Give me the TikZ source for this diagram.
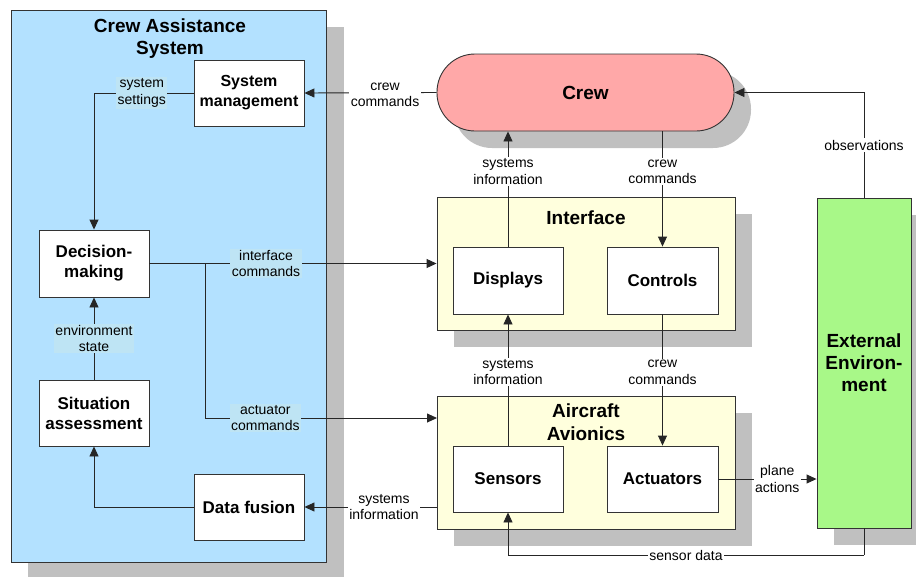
\documentclass[tikz,border=0pt]{standalone}
\usepackage{fontspec}
\setmainfont{Liberation Sans}
\usetikzlibrary{arrows.meta}
\definecolor{casblue}{RGB}{179,225,255}
\definecolor{lblblue}{RGB}{190,228,244}
\definecolor{crewpink}{RGB}{255,168,168}
\definecolor{ifyellow}{RGB}{255,255,221}
\definecolor{envgreen}{RGB}{168,248,136}
\definecolor{shadowgray}{RGB}{192,192,192}
\tikzset{
  box/.style={draw=black!80, line width=0.9pt, fill=white, inner sep=0pt, align=center,
    font=\fontsize{17}{20}\selectfont\bfseries},
  ttl/.style={inner sep=0pt, align=center, font=\fontsize{19}{22.5}\selectfont\bfseries},
  lbl/.style={inner sep=1.5pt, align=center, font=\fontsize{14}{16.5}\selectfont, fill=white},
  lblc/.style={lbl, fill=lblblue},
  conn/.style={draw=black!85, line width=0.9pt},
  arr/.style={conn, -{Triangle[length=10pt,width=9pt]}},
  shadow/.style={fill=shadowgray, draw=none}
}
\begin{document}
\begin{tikzpicture}[x=1pt,y=-1pt]
\useasboundingbox (0,0) rectangle (916,576);
% shadows
\fill[shadowgray] (28,27) rectangle (344,580);
\fill[shadowgray] (454,214) rectangle (752,347);
\fill[shadowgray] (454,413) rectangle (752,546);
\fill[shadowgray, rounded corners=38pt] (454,71) rectangle (751,148);
\begin{scope}
\clip (0,0) rectangle (916,576);
\fill[shadowgray] (834,215) rectangle (930,545);
\end{scope}
% containers
\node[draw=black!80, line width=0.9pt, fill=casblue, minimum width=315, minimum height=552, inner sep=0pt] (cas) at (168.5,286) {};
\node[ttl] (castitle) at (170,38.5) {Crew Assistance\\System};
\node[draw=black!80, line width=0.9pt, fill=ifyellow, minimum width=298, minimum height=133, inner sep=0pt] (intf) at (586,263.5) {};
\node[ttl] (intftitle) at (586,218) {Interface};
\node[draw=black!80, line width=0.9pt, fill=ifyellow, minimum width=298, minimum height=133, inner sep=0pt] (av) at (586,462.5) {};
\node[ttl] (avtitle) at (586,422) {Aircraft\\Avionics};
\node[draw=black!80, line width=0.9pt, fill=crewpink, minimum width=297, minimum height=77, rounded corners=38pt, inner sep=0pt, font=\fontsize{19}{22}\selectfont\bfseries] (crew) at (585.5,92.5) {Crew};
\node[draw=black!80, line width=0.9pt, fill=envgreen, minimum width=94, minimum height=330, inner sep=0pt, align=center, font=\fontsize{19}{22}\selectfont\bfseries] (env) at (864,363) {External\\Environ-\\ment};
% inner boxes
\node[box, minimum width=110, minimum height=66, font=\fontsize{16}{20}\selectfont\bfseries] (sm) at (249,93) {System\\management};
\node[box, minimum width=110, minimum height=67] (dm) at (94,263.5) {Decision-\\making};
\node[box, minimum width=110, minimum height=66] (sa) at (94,413) {Situation\\assessment};
\node[box, minimum width=110, minimum height=66] (df) at (249,507) {Data fusion};
\node[box, minimum width=110, minimum height=67] (disp) at (508,280.5) {Displays};
\node[box, minimum width=111, minimum height=67] (ctrl) at (662.5,280.5) {Controls};
\node[box, minimum width=110, minimum height=66] (sens) at (508,479) {Sensors};
\node[box, minimum width=111, minimum height=66] (act) at (662.5,479) {Actuators};
% coordinates
\coordinate (j) at (205,263.5);
\coordinate (avin) at (437,418);
\coordinate (avout) at (437,507);
\coordinate (sd) at (864,555);
% connectors
\draw[arr] (crew.west) -- node[lbl, pos=0.39, yshift=-2pt] {crew\\commands} (sm.east);
\draw[arr] (sm.west) -| node[lblc, pos=0.26] {system\\settings} (dm.north);
\draw[arr] (sa.north) -- node[lblc] {environment\\state} (dm.south);
\draw[arr] (df.west) -| (sa.south);
\draw[arr] (dm.east) -- node[lblc, pos=0.406] {interface\\commands} (intf.west);
\draw[arr] (j) |- node[lblc, pos=0.63] {actuator\\commands} (avin);
\draw[arr] (disp.north) -- node[lbl, pos=0.65] {systems\\information} (disp.north |- crew.south);
\draw[arr] (ctrl.north |- crew.south) -- node[lbl, pos=0.35] {crew\\commands} (ctrl.north);
\draw[arr] (sens.north) -- node[lbl, pos=0.56] {systems\\information} (disp.south);
\draw[arr] (ctrl.south) -- node[lbl, pos=0.44] {crew\\commands} (act.north);
\draw[arr] (avout) -- node[lbl, pos=0.4] {systems\\information} (df.east);
\draw[arr] (act.east) -- node[lbl, pos=0.6] {plane\\actions} (act.east -| env.west);
\draw[arr] (env.north) |- node[lbl, pos=0.25] {observations} (crew.east);
\draw[conn] (env.south) -- (sd);
\draw[arr] (sd) -| node[lbl, pos=0.25, inner ysep=0.5pt] {sensor data} (sens.south);
\end{tikzpicture}
\end{document}
